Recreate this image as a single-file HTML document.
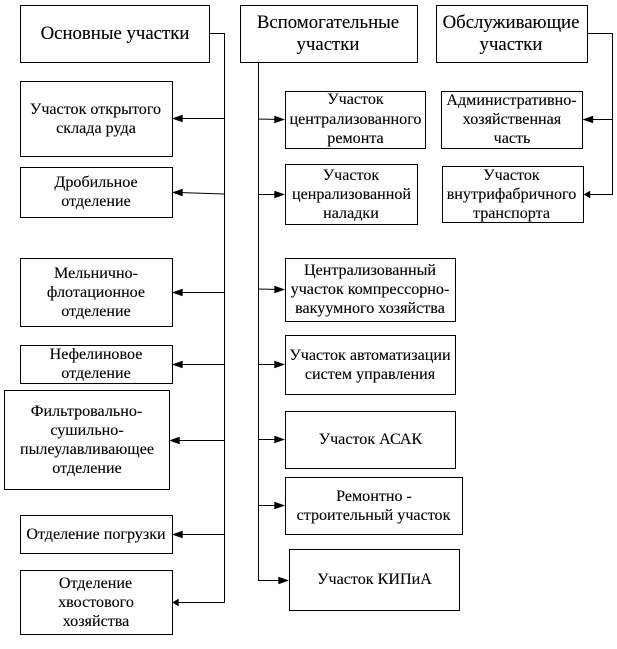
<!DOCTYPE html>
<html><head><meta charset="utf-8"><style>
html,body{margin:0;padding:0;background:#fff;width:617px;height:649px;overflow:hidden}
svg{display:block}
text{font-family:"Liberation Serif","Noto Serif CJK SC",serif;font-size:16.1px;fill:#000;stroke:#000;stroke-width:.12;text-anchor:middle}
.h{font-size:18.8px}
rect{fill:#fff;stroke:#000;stroke-width:1}
path.l{fill:none;stroke:#000;stroke-width:1}
</style></head><body>
<svg width="617" height="649" viewBox="0 0 617 649" xmlns="http://www.w3.org/2000/svg">
<rect x="20.5" y="5.5" width="189" height="57"/>
<rect x="240.5" y="5.5" width="177" height="57"/>
<rect x="436.5" y="5.5" width="151" height="57"/>
<rect x="20.5" y="81.5" width="152" height="75"/>
<rect x="20.5" y="167.5" width="152" height="50"/>
<rect x="20.5" y="258.5" width="152" height="68"/>
<rect x="20.5" y="345.5" width="152" height="38"/>
<rect x="4.5" y="390.5" width="165" height="99"/>
<rect x="20.5" y="515.5" width="152" height="38"/>
<rect x="20.5" y="570.5" width="152" height="64"/>
<rect x="285.5" y="91.5" width="140" height="57"/>
<rect x="285.5" y="164.5" width="132" height="60"/>
<rect x="285.5" y="258.5" width="170" height="63"/>
<rect x="285.5" y="335.5" width="170" height="59"/>
<rect x="285.5" y="411.5" width="170" height="57"/>
<rect x="285.5" y="477.5" width="177" height="57"/>
<rect x="289.5" y="549.5" width="170" height="61"/>
<rect x="441.5" y="91.5" width="141" height="57"/>
<rect x="442.5" y="166.5" width="141" height="56"/>
<path class="l" d="M209.5 33.5H224.5V602.5H178M224.5 118.5H178M224.5 194L178 192.5M224.5 292.5H178M224.5 364.5H178M224.5 440.5H175M224.5 534.5H178"/>
<path class="l" d="M258.5 62.5V580.5H284M258.5 119L280 119.5M258.5 194.5H280M258.5 289L280 289.5M258.5 364.5H280M258.5 439.5H280M258.5 505.5H280"/>
<path class="l" d="M587.5 33.5H612.5V194.5H588M612.5 119.5H588"/>
<g fill="#000" stroke="#000" stroke-width=".4">
<path d="M172.5 118.5l10-3.5v7zM172.5 192.5l10-3.5v7zM172.5 292.5l10-3.5v7zM172.5 364.5l10-3.5v7zM169.5 440.5l10-3.5v7zM172.5 534.5l10-3.5v7zM172.5 602.5l6-3.5v7z"/>
<path d="M284.5 119.5l-10-3.5v7zM284.5 194.5l-10-3.5v7zM284.5 289.5l-10-3.5v7zM284.5 364.5l-10-3.5v7zM284.5 439.5l-10-3.5v7zM284.5 505.5l-10-3.5v7zM288.5 580.5l-10-3.5v7z"/>
<path d="M583 119.5l10-3.5v7zM584 194.5l6-3.5v7z"/>
</g>
<text class="h" x="115" y="39">Основные участки</text>
<text class="h" x="328" y="28">Вспомогательные</text>
<text class="h" x="328" y="50">участки</text>
<text class="h" x="511" y="28">Обслуживающие</text>
<text class="h" x="511" y="50">участки</text>
<text x="95.5" y="114">Участок открытого</text>
<text x="96" y="133">склада руда</text>
<text x="96" y="187">Дробильное</text>
<text x="96" y="206">отделение</text>
<text x="96" y="278">Мельнично-</text>
<text x="96" y="297">флотационное</text>
<text x="96" y="316">отделение</text>
<text x="96" y="359">Нефелиновое</text>
<text x="96" y="378">отделение</text>
<text x="86.5" y="416">Фильтровально-</text>
<text x="87" y="435">сушильно-</text>
<text x="87" y="454">пылеулавливающее</text>
<text x="87" y="473">отделение</text>
<text x="96" y="539">Отделение погрузки</text>
<text x="95.5" y="588">Отделение</text>
<text x="96" y="607">хвостового</text>
<text x="96" y="626">хозяйства</text>
<text x="355.5" y="104">Участок</text>
<text x="355.5" y="124">централизованного</text>
<text x="355.5" y="143">ремонта</text>
<text x="351" y="180">Участок</text>
<text x="351.5" y="199">ценрализованной</text>
<text x="351" y="218">наладки</text>
<text x="370" y="275">Централизованный</text>
<text x="370" y="294">участок компрессорно-</text>
<text x="370" y="313">вакуумного хозяйства</text>
<text x="370" y="360">Участок автоматизации</text>
<text x="370" y="379">систем управления</text>
<text x="370.5" y="444">Участок АСАК</text>
<text x="374" y="501">Ремонтно -</text>
<text x="373.5" y="520">строительный участок</text>
<text x="374.5" y="584">Участок КИПиА</text>
<text x="511.5" y="105">Административно-</text>
<text x="512" y="124">хозяйственная</text>
<text x="512" y="143">часть</text>
<text x="511.5" y="180">Участок</text>
<text x="511.5" y="199">внутрифабричного</text>
<text x="511.5" y="218">транспорта</text>
</svg>
</body></html>
